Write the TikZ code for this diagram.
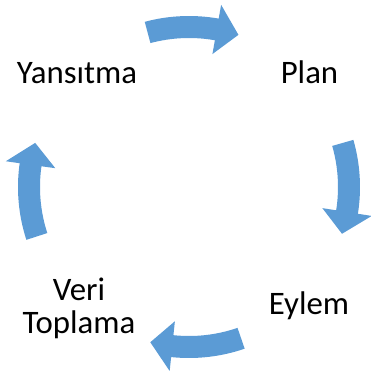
\documentclass[tikz,border=0pt]{standalone}
\usepackage{fontspec}
\setmainfont{Carlito}
\definecolor{arrowblue}{HTML}{5B9BD5}
\tikzset{
  cycletext/.style={inner sep=0pt, anchor=base, align=center,
    font=\fontsize{32.8}{33}\selectfont},
  cyclearrow/.style={fill=arrowblue, draw=none}
}
\begin{document}
\begin{tikzpicture}[x=1pt,y=1pt]
      \useasboundingbox (0,0) rectangle (371,376);
      \coordinate (c) at (189,189);
      \node[cycletext] (plan) at (309.5,293) {Plan};
      \node[cycletext] (eylem) at (309,61) {Eylem};
      \node[cycletext, anchor=center] (veri) at (79,67.5) {Veri\\Toplama};
      \node[cycletext] (yansitma) at (77,293) {Yansıtma};
      \begin{scope}[shift={(c)}]
        \fill[cyclearrow] (105:171) arc[start angle=105, end angle=80, radius=171pt]
          -- (80:185) -- (72:160) -- (80:135) -- (80:149)
          arc[start angle=80, end angle=105, radius=149pt] -- cycle;
        \fill[cyclearrow] (16:171) arc[start angle=16, end angle=-9, radius=171pt]
          -- (-9:185) -- (-17:160) -- (-9:135) -- (-9:149)
          arc[start angle=-9, end angle=16, radius=149pt] -- cycle;
        \fill[cyclearrow] (-71:171) arc[start angle=-71, end angle=-96, radius=171pt]
          -- (-96:185) -- (-104:160) -- (-96:135) -- (-96:149)
          arc[start angle=-96, end angle=-71, radius=149pt] -- cycle;
        \fill[cyclearrow] (198:171) arc[start angle=198, end angle=172, radius=171pt]
          -- (172:185) -- (164:160) -- (172:135) -- (172:149)
          arc[start angle=172, end angle=198, radius=149pt] -- cycle;
      \end{scope}
    \end{tikzpicture}
\end{document}
